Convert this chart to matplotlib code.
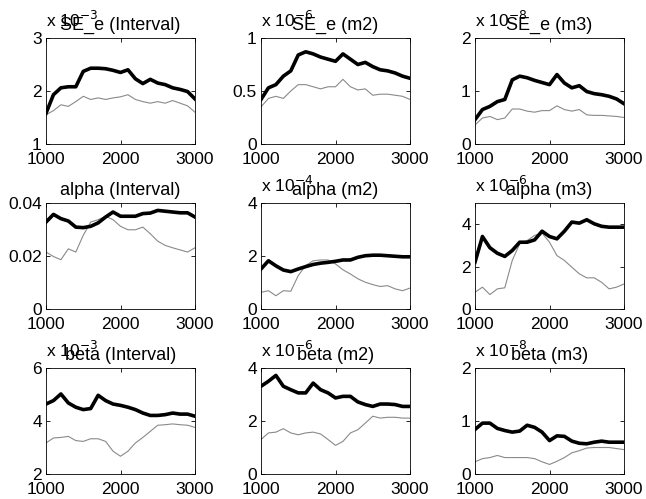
import matplotlib.pyplot as plt
import numpy as np

plt.rcParams['font.family'] = ['Liberation Sans', 'DejaVu Sans']

x = [1000, 1100, 1200, 1300, 1400, 1500, 1600, 1700, 1800, 1900, 2000,
     2100, 2200, 2300, 2400, 2500, 2600, 2700, 2800, 2900, 3000]

titles = ["SE_e (Interval)", "SE_e (m2)", "SE_e (m3)",
          "alpha (Interval)", "alpha (m2)", "alpha (m3)",
          "beta (Interval)", "beta (m2)", "beta (m3)"]
exponents = ["-3", "-6", "-8", None, "-4", "-6", "-3", "-6", "-8"]

se_int_thick = [1.58, 1.93, 2.06, 2.08, 2.08, 2.37, 2.43, 2.43, 2.42, 2.39, 2.35,
                2.40, 2.23, 2.14, 2.22, 2.15, 2.12, 2.06, 2.03, 1.99, 1.85]
se_int_thin = [1.55, 1.63, 1.74, 1.71, 1.80, 1.90, 1.84, 1.87, 1.84, 1.87, 1.89,
               1.93, 1.84, 1.80, 1.77, 1.80, 1.77, 1.82, 1.77, 1.72, 1.60]
se_m2_thick = [0.42, 0.53, 0.56, 0.64, 0.69, 0.84, 0.87, 0.85, 0.82, 0.80, 0.78,
               0.85, 0.80, 0.75, 0.77, 0.73, 0.70, 0.69, 0.67, 0.64, 0.62]
se_m2_thin = [0.35, 0.43, 0.45, 0.43, 0.50, 0.56, 0.56, 0.54, 0.52, 0.54, 0.54,
              0.61, 0.54, 0.51, 0.52, 0.46, 0.47, 0.47, 0.46, 0.45, 0.42]
se_m3_thick = [0.46, 0.65, 0.71, 0.80, 0.84, 1.21, 1.28, 1.25, 1.20, 1.16, 1.12,
               1.31, 1.15, 1.06, 1.10, 0.99, 0.95, 0.93, 0.90, 0.85, 0.76]
se_m3_thin = [0.36, 0.49, 0.52, 0.46, 0.49, 0.66, 0.66, 0.62, 0.60, 0.63, 0.63,
              0.72, 0.65, 0.62, 0.65, 0.55, 0.54, 0.54, 0.53, 0.52, 0.50]

al_int_thick = [0.0328, 0.0357, 0.0341, 0.0332, 0.0309, 0.0307, 0.0312, 0.0325, 0.0347, 0.0366, 0.0350,
                0.0350, 0.0350, 0.0360, 0.0362, 0.0372, 0.0369, 0.0366, 0.0363, 0.0363, 0.0347]
al_int_thin = [0.0215, 0.0198, 0.0186, 0.0227, 0.0215, 0.0278, 0.0328, 0.0337, 0.0350, 0.0337, 0.0312,
               0.0299, 0.0299, 0.0309, 0.0284, 0.0256, 0.0240, 0.0231, 0.0223, 0.0215, 0.0231]
al_m2_thick = [1.51, 1.82, 1.63, 1.47, 1.41, 1.51, 1.60, 1.68, 1.73, 1.76, 1.80,
               1.85, 1.85, 1.95, 2.01, 2.03, 2.03, 2.01, 1.99, 1.97, 1.97]
al_m2_thin = [0.63, 0.69, 0.50, 0.69, 0.67, 1.26, 1.64, 1.82, 1.85, 1.85, 1.70,
              1.48, 1.32, 1.14, 1.01, 0.92, 0.85, 0.88, 0.76, 0.69, 0.79]
al_m3_thick = [2.21, 3.42, 2.89, 2.63, 2.48, 2.76, 3.15, 3.15, 3.26, 3.67, 3.42,
               3.31, 3.67, 4.10, 4.05, 4.21, 4.02, 3.90, 3.86, 3.86, 3.86]
al_m3_thin = [0.79, 1.03, 0.68, 0.95, 1.00, 2.29, 3.08, 3.23, 3.47, 3.58, 3.15,
              2.52, 2.29, 1.97, 1.66, 1.47, 1.47, 1.26, 0.95, 1.03, 1.18]

be_int_thick = [4.64, 4.77, 5.02, 4.68, 4.52, 4.43, 4.47, 4.97, 4.77, 4.64, 4.59,
                4.52, 4.43, 4.30, 4.21, 4.21, 4.24, 4.30, 4.26, 4.26, 4.18]
be_int_thin = [3.17, 3.36, 3.38, 3.42, 3.26, 3.23, 3.33, 3.33, 3.23, 2.86, 2.67,
               2.86, 3.17, 3.38, 3.61, 3.84, 3.86, 3.89, 3.86, 3.84, 3.76]
be_m2_thick = [3.31, 3.50, 3.72, 3.31, 3.18, 3.06, 3.06, 3.43, 3.18, 3.06, 2.87,
               2.93, 2.93, 2.72, 2.62, 2.55, 2.64, 2.64, 2.62, 2.55, 2.55]
be_m2_thin = [1.30, 1.55, 1.58, 1.71, 1.55, 1.48, 1.55, 1.58, 1.51, 1.30, 1.08,
              1.23, 1.55, 1.67, 1.92, 2.18, 2.11, 2.14, 2.14, 2.11, 2.11]
be_m3_thick = [0.84, 0.96, 0.96, 0.86, 0.82, 0.79, 0.81, 0.92, 0.88, 0.79, 0.63,
               0.72, 0.71, 0.62, 0.58, 0.57, 0.60, 0.62, 0.60, 0.60, 0.60]
be_m3_thin = [0.23, 0.29, 0.31, 0.35, 0.31, 0.31, 0.31, 0.31, 0.29, 0.23, 0.18,
              0.24, 0.31, 0.40, 0.44, 0.49, 0.50, 0.50, 0.50, 0.48, 0.46]

thick = [se_int_thick, se_m2_thick, se_m3_thick,
         al_int_thick, al_m2_thick, al_m3_thick,
         be_int_thick, be_m2_thick, be_m3_thick]
thin = [se_int_thin, se_m2_thin, se_m3_thin,
        al_int_thin, al_m2_thin, al_m3_thin,
        be_int_thin, be_m2_thin, be_m3_thin]

ylims = [(1, 3), (0, 1), (0, 2), (0, 0.04), (0, 4), (0, 5), (2, 6), (0, 4), (0, 2)]
yticks = [[1, 2, 3], [0, 0.5, 1], [0, 1, 2], [0, 0.02, 0.04], [0, 2, 4],
          [0, 2, 4], [2, 4, 6], [0, 2, 4], [0, 1, 2]]

W, H = 646, 499
fig = plt.figure(figsize=(W / 100, H / 100), dpi=100)

lefts = [46, 261, 475]
tops = [38, 203, 368]
aw, ah = 149, 106

for i in range(9):
    r, c = divmod(i, 3)
    ax = fig.add_axes([lefts[c] / W, (H - tops[r] - ah) / H, aw / W, ah / H])
    ax.plot(x, thin[i], color="#8a8a8a", linewidth=0.8)
    ax.plot(x, thick[i], color="black", linewidth=2.6)
    ax.set_xlim(1000, 3000)
    ax.set_ylim(*ylims[i])
    ax.set_xticks([1000, 2000, 3000])
    ax.set_yticks(yticks[i])
    ax.set_yticklabels(["%g" % t for t in yticks[i]])
    ax.tick_params(direction="in", length=3, width=0.6, labelsize=12.5,
                   top=True, right=True)
    ax.tick_params(axis="x", pad=6)
    ax.tick_params(axis="y", pad=3)
    for s in ax.spines.values():
        s.set_linewidth(0.6)
    ax.set_title(titles[i], fontsize=13, pad=6)
    if exponents[i]:
        ax.annotate("x 10$^{%s}$" % exponents[i], xy=(0, 1), xycoords="axes fraction",
                    xytext=(0, 6), textcoords="offset points",
                    ha="left", va="bottom", fontsize=12.5)

fig.savefig("out.png", dpi=100)
